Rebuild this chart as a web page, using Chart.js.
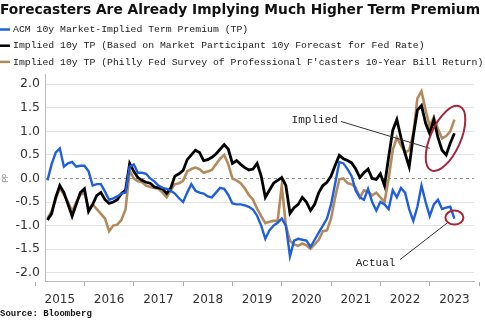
<!DOCTYPE html>
<html>
<head>
<meta charset="utf-8">
<script src="https://cdn.jsdelivr.net/npm/chart.js@4"></script>
<style>
  body { margin: 0; background: #fff; }
</style>
</head>
<body>
<canvas id="tpChart" width="485" height="327"></canvas>
<script>
// monthly readings, Apr 2015 .. Jul 2023
var startYear = 2015.25

var acm = [
  -0.04, 0.3, 0.55, 0.64, 0.25, 0.32, 0.35, 0.25, 0.27, 0.27,
  0.15, -0.15, -0.12, -0.12, -0.28, -0.45, -0.42, -0.38, -0.32, -0.3,
  0.25, 0.3, 0.12, 0.12, 0.1, 0.0, -0.06, -0.15, -0.2, -0.22,
  -0.26, -0.32, -0.42, -0.5, -0.3, -0.12, -0.26, -0.3, -0.32, -0.38,
  -0.4, -0.3, -0.2, -0.22, -0.35, -0.53, -0.55, -0.55, -0.57, -0.6,
  -0.66, -0.79, -1.0, -1.28, -1.1, -1.0, -0.94, -0.85, -1.0, -1.65,
  -1.32, -1.28, -1.3, -1.32, -1.45, -1.3, -1.15, -1.0, -0.85, -0.55,
  -0.1, 0.35, 0.32, 0.2, 0.05, -0.26, -0.4, -0.45, -0.22, -0.5,
  -0.68, -0.5, -0.55, -0.65, -0.25, -0.4, -0.2, -0.3, -0.65, -0.9,
  -0.6, -0.15, -0.5, -0.8, -0.55, -0.45, -0.65, -0.62, -0.6, -0.85
]
var implied = [
  -0.88, -0.75, -0.4, -0.15, -0.3, -0.55, -0.8, -0.55, -0.3, -0.22,
  -0.7, -0.55, -0.36, -0.3, -0.45, -0.53, -0.5, -0.45, -0.32, -0.25,
  0.32, 0.15, 0.02, -0.04, -0.08, -0.1, -0.18, -0.2, -0.22, -0.32,
  -0.2, 0.05, 0.1, 0.17, 0.4, 0.5, 0.6, 0.55, 0.38, 0.4,
  0.45, 0.52, 0.62, 0.72, 0.62, 0.32, 0.38, 0.3, 0.23, 0.18,
  0.2, 0.32, 0.05, -0.4, -0.25, -0.1, -0.04, 0.02, -0.15, -0.74,
  -0.62, -0.55, -0.4, -0.5, -0.68, -0.55, -0.3, -0.15, -0.08, 0.05,
  0.28, 0.49, 0.42, 0.38, 0.33, 0.2, 0.02, 0.12, 0.2, 0.0,
  -0.02, 0.1, -0.15, 0.45, 1.02, 1.25, 0.87, 0.53, 0.25, 0.9,
  1.45, 1.55, 1.17, 0.95, 1.25, 0.87, 0.6, 0.5, 0.75, 0.96
]
var philly = [
  -0.85, -0.7, -0.45, -0.2, -0.35, -0.5, -0.7, -0.5, -0.35, -0.3,
  -0.65, -0.55, -0.65, -0.75, -0.85, -1.12, -1.0, -0.98, -0.88, -0.65,
  0.17, 0.0, -0.06, -0.08, -0.15, -0.18, -0.2, -0.22, -0.3, -0.4,
  -0.25, -0.12, -0.1, -0.05, 0.15, 0.2, 0.23, 0.2, 0.12, 0.15,
  0.18, 0.3, 0.42, 0.5, 0.3, 0.0, -0.04, -0.1, -0.21, -0.35,
  -0.45, -0.64, -0.8, -0.95, -0.92, -0.9, -0.9, -0.15, -1.0, -1.32,
  -1.4, -1.43, -1.38, -1.42, -1.49, -1.4, -1.3, -1.12, -1.1, -0.85,
  -0.4, -0.02, 0.0, -0.1, -0.12, -0.2, -0.4, -0.25, -0.28, -0.36,
  -0.3, -0.4, -0.5, 0.0, 0.6, 0.87, 0.7, 0.55, 0.6, 0.95,
  1.7, 1.85, 1.45, 1.1, 1.3, 1.05, 0.85, 0.9, 1.0, 1.25
]

var yearLabels = [2015, 2016, 2017, 2018, 2019, 2020, 2021, 2022, 2023]
var yTicks = [-2.0, -1.5, -1.0, -0.5, 0.0, 0.5, 1.0, 1.5, 2.0]

var seriesNames = [
  'ACM 10y Market-Implied Term Premium (TP)',
  'Implied 10y TP (Based on Market Participant 10y Forecast for Fed Rate)',
  "Implied 10y TP (Philly Fed Survey of Professional F'casters 10-Year Bill Return)"
]

function toPoints(arr){
  return arr.map(function(v, i){ return {x: startYear + i/12, y: v} })
}

// year boundaries get tick marks, mid-years get the labels
var xTicks = []
yearLabels.forEach(function(y){ xTicks.push(y); xTicks.push(y + 0.5) })
xTicks.push(2024)

// legend rows drawn by hand so they sit flush left like the original
var legendRows = {
  id: 'legendRows',
  afterDraw: function(chart){
    var c = chart.ctx
    c.save()
    c.font = '9.8px "Liberation Mono", monospace'
    c.textBaseline = 'middle'
    c.textAlign = 'left'
    chart.data.datasets.forEach(function(ds, i){
      var y = 29.5 + i * 16.2
      c.strokeStyle = ds.borderColor
      c.lineWidth = 2.5
      c.beginPath(); c.moveTo(0, y); c.lineTo(10, y); c.stroke()
      c.fillStyle = '#1a1a1a'
      c.fillText(ds.label, 13, y)
    })
    c.restore()
  }
}

var notes = {
  id: 'notes',
  afterDatasetsDraw: function(chart){
    var c = chart.ctx, xs = chart.scales.x, ys = chart.scales.y
    function P(x, y){ return [xs.getPixelForValue(x), ys.getPixelForValue(y)] }
    c.save()
    c.strokeStyle = '#333'
    c.lineWidth = 1
    var a = P(2021.2, 1.21), b = P(2023.0, 0.64)
    c.beginPath(); c.moveTo(a[0], a[1]); c.lineTo(b[0], b[1]); c.stroke()
    a = P(2022.4, -1.72); b = P(2023.36, -0.94)
    c.beginPath(); c.moveTo(a[0], a[1]); c.lineTo(b[0], b[1]); c.stroke()

    c.fillStyle = '#222'
    c.font = '11px "Liberation Mono", monospace'
    c.textBaseline = 'middle'
    c.textAlign = 'left'
    var t = P(2020.2, 1.23)
    c.fillText('Implied', t[0], t[1])
    t = P(2021.5, -1.79)
    c.fillText('Actual', t[0], t[1])

    c.strokeStyle = '#a3283d'
    c.lineWidth = 2
    var e = P(2023.32, 0.85)
    c.beginPath(); c.ellipse(e[0], e[1], 15, 35, 0.42, 0, Math.PI*2); c.stroke()
    e = P(2023.5, -0.83)
    c.beginPath(); c.ellipse(e[0], e[1], 9, 7, 0, 0, Math.PI*2); c.stroke()
    c.restore()
  }
}

var chl = document.getElementById('tpChart')
var tpChart = new Chart(chl, {
  type: 'line',
  data: {
    datasets: [{
      label: seriesNames[0],
      data: toPoints(acm),
      borderColor: '#1f5fdc',
      backgroundColor: '#1f5fdc',
      borderWidth: 2.4
    },{
      label: seriesNames[1],
      data: toPoints(implied),
      borderColor: '#000000',
      backgroundColor: '#000000',
      borderWidth: 2.8
    },{
      label: seriesNames[2],
      data: toPoints(philly),
      borderColor: '#b48a5c',
      backgroundColor: '#b48a5c',
      borderWidth: 2.6
    }]
  },
  options: {
    responsive: false,
    animation: false,
    elements: { point: { radius: 0 }, line: { tension: 0 } },
    layout: { padding: { left: 0, right: 5, top: 0, bottom: 8 } },
    plugins: {
      tooltip: { enabled: false },
      legend: { display: false },
      title: {
        display: true,
        text: 'Forecasters Are Already Implying Much Higher Term Premium',
        align: 'start',
        color: '#111',
        font: { family: '"DejaVu Sans", Verdana, sans-serif', size: 14, weight: 'bold' },
        padding: { top: 2, bottom: 56 }
      },
      subtitle: {
        display: true,
        position: 'bottom',
        align: 'start',
        text: 'Source: Bloomberg',
        color: '#111',
        font: { family: '"Liberation Mono", monospace', size: 9, weight: 'bold' },
        padding: { top: 2, bottom: 0 }
      }
    },
    scales: {
      x: {
        type: 'linear',
        min: 2015.2,
        max: 2023.9,
        afterBuildTicks: function(s){ s.ticks = xTicks.map(function(v){ return {value: v} }) },
        afterFit: function(s){ s.height = 25 },
        grid: {
          drawOnChartArea: false,
          drawTicks: true,
          tickLength: 5,
          color: function(ctx){ return ctx.tick && ctx.tick.value % 1 === 0 ? '#aaa' : 'rgba(0,0,0,0)' }
        },
        border: { color: '#bbb' },
        ticks: {
          autoSkip: false,
          maxRotation: 0,
          color: '#333',
          padding: 6,
          font: { family: '"DejaVu Sans", Verdana, sans-serif', size: 12 },
          callback: function(v){ return v % 1 === 0.5 ? String(Math.floor(v)) : '' }
        }
      },
      y: {
        min: -2.18,
        max: 2.2,
        afterBuildTicks: function(s){ s.ticks = yTicks.map(function(v){ return {value: v} }) },
        afterFit: function(s){ s.width = 45 },
        title: {
          display: true,
          text: 'pp',
          color: '#666',
          padding: 0,
          font: { size: 7 }
        },
        grid: {
          drawTicks: false,
          color: function(ctx){ return ctx.tick && ctx.tick.value === 0 ? '#999' : '#e3e3e3' }
        },
        border: {
          color: '#bbb',
          dash: function(ctx){ return ctx.tick && ctx.tick.value === 0 ? [3, 3] : [] }
        },
        ticks: {
          color: '#333',
          padding: 5,
          font: { family: '"DejaVu Sans", Verdana, sans-serif', size: 12.5 },
          callback: function(v){ return v.toFixed(1) }
        }
      }
    }
  },
  plugins: [notes, legendRows]
})
</script>
</body>
</html>
